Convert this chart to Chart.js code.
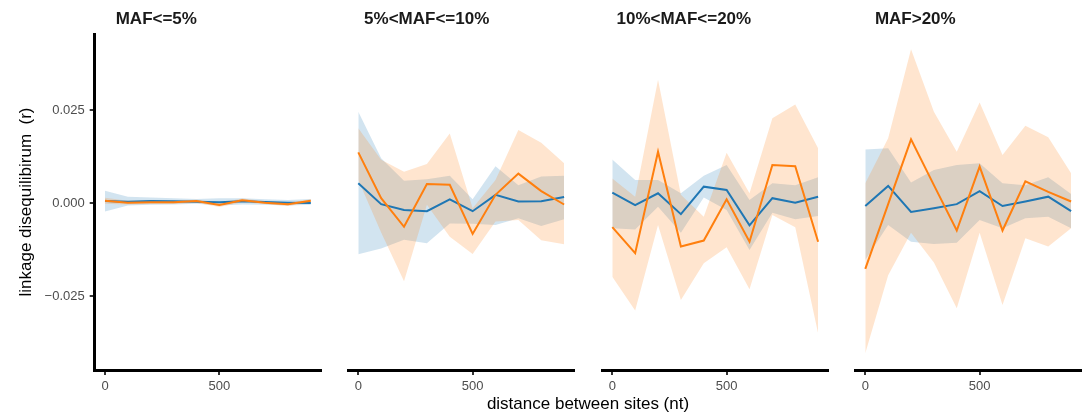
<!DOCTYPE html>
<html>
<head>
<meta charset="utf-8">
<title>Linkage disequilibrium by distance</title>
<script src="https://cdn.jsdelivr.net/npm/chart.js@4.4.1/dist/chart.umd.min.js"></script>
<style>
  html, body { margin: 0; padding: 0; background: #fff; }
  #fig { position: relative; width: 1089px; height: 415px; overflow: hidden;
         font-family: "Liberation Sans", Arial, Helvetica, sans-serif; }
  #fig canvas { position: absolute; top: 0; }
  .strip { position: absolute; top: 9.6px; font-size: 17px; line-height: 17px;
           font-weight: bold; color: #1a1a1a; white-space: nowrap; }
  .xtitle { position: absolute; top: 394.6px; left: 0; width: 1176px; text-align: center;
            font-size: 17px; line-height: 17px; color: #000; white-space: nowrap; }
</style>
</head>
<body>
<div id="fig">
  <canvas id="p0" width="330" height="415"></canvas>
  <canvas id="p1" width="239" height="415"></canvas>
  <canvas id="p2" width="239" height="415"></canvas>
  <canvas id="p3" width="239" height="415"></canvas>
  <div class="strip" id="t0"></div>
  <div class="strip" id="t1"></div>
  <div class="strip" id="t2"></div>
  <div class="strip" id="t3"></div>
  <div class="xtitle" id="xt"></div>
</div>
<script>
// distance bins (nt) and axis ticks
const distances = [0, 100, 200, 300, 400, 500, 600, 700, 800, 900];
const xTicks = [0, 500];
const yTicks = [-0.025, 0, 0.025];
const facetTitles = ['MAF<=5%', '5%<MAF<=10%', '10%<MAF<=20%', 'MAF>20%'];
const xTitle = 'distance between sites (nt)';
const yTitle = 'linkage disequilibirum  (r)';

// MAF <= 5%
const maf5BlueMean   = [0.00054, 0.00036, 0.00054, 0.00045, 0.00036, 0.00018, 0.00045, 0.00027, 0.00009, 0.00000];
const maf5BlueLo     = [-0.0023, -0.0007, -0.0005, -0.0004, -0.0002, -0.0007, -0.0004, -0.0005, -0.0007, -0.0005];
const maf5BlueHi     = [0.0033, 0.0017, 0.0015, 0.0013, 0.0011, 0.0013, 0.0013, 0.0010, 0.0008, 0.0011];
const maf5OrangeMean = [0.00063, 0.00009, 0.00018, 0.00018, 0.00054, -0.00054, 0.00072, 0.00009, -0.00036, 0.00063];
const maf5OrangeLo   = [-0.0002, -0.0004, -0.0003, -0.0003, 0.0001, -0.0011, 0.0002, -0.0003, -0.0008, 0.0002];
const maf5OrangeHi   = [0.0014, 0.0006, 0.0006, 0.0006, 0.0009, 0.0000, 0.0012, 0.0005, 0.0001, 0.0010];

// 5% < MAF <= 10%
const maf10BlueMean   = [0.0053, -0.0003, -0.0019, -0.0022, 0.0010, -0.0022, 0.0022, 0.0004, 0.0005, 0.0016];
const maf10BlueLo     = [-0.0138, -0.0122, -0.0099, -0.0108, -0.0055, -0.0056, -0.0059, -0.0041, -0.0062, -0.0044];
const maf10BlueHi     = [0.0245, 0.0120, 0.0060, 0.0064, 0.0073, 0.0010, 0.0099, 0.0048, 0.0071, 0.0073];
const maf10OrangeMean = [0.0136, 0.0013, -0.0064, 0.0051, 0.0049, -0.0083, 0.0022, 0.0079, 0.0032, -0.0004];
const maf10OrangeLo   = [0.0062, -0.0079, -0.0210, -0.0005, -0.0091, -0.0137, -0.0050, -0.0046, -0.0100, -0.0111];
const maf10OrangeHi   = [0.0201, 0.0116, 0.0084, 0.0105, 0.0187, -0.0014, 0.0062, 0.0196, 0.0162, 0.0107];

// 10% < MAF <= 20%
const maf20BlueMean   = [0.0028, -0.0006, 0.0026, -0.0030, 0.0044, 0.0035, -0.0060, 0.0013, 0.0001, 0.0017];
const maf20BlueLo     = [-0.0068, -0.0071, -0.0010, -0.0080, 0.0015, -0.0019, -0.0126, -0.0026, -0.0044, -0.0035];
const maf20BlueHi     = [0.0117, 0.0062, 0.0062, 0.0026, 0.0073, 0.0102, 0.0008, 0.0053, 0.0048, 0.0069];
const maf20OrangeMean = [-0.0065, -0.0135, 0.0138, -0.0117, -0.0101, 0.0010, -0.0104, 0.0102, 0.0099, -0.0104];
const maf20OrangeLo   = [-0.0198, -0.0289, -0.0059, -0.0261, -0.0162, -0.0119, -0.0232, -0.0032, -0.0065, -0.0350];
const maf20OrangeHi   = [0.0066, 0.0017, 0.0331, 0.0022, -0.0037, 0.0135, 0.0026, 0.0228, 0.0265, 0.0147];

// MAF > 20%
const mafHiBlueMean   = [-0.0008, 0.0046, -0.0024, -0.0014, -0.0003, 0.0032, -0.0008, 0.0004, 0.0017, -0.0022];
const mafHiBlueLo     = [-0.0153, -0.0059, -0.0104, -0.0110, -0.0107, -0.0046, -0.0068, -0.0041, -0.0037, -0.0068];
const mafHiBlueHi     = [0.0144, 0.0147, 0.0055, 0.0089, 0.0102, 0.0107, 0.0053, 0.0048, 0.0069, 0.0024];
const mafHiOrangeMean = [-0.0177, -0.0003, 0.0171, 0.0048, -0.0074, 0.0098, -0.0074, 0.0058, 0.0030, 0.0004];
const mafHiOrangeLo   = [-0.0404, -0.0194, -0.0080, -0.0160, -0.0283, -0.0080, -0.0274, -0.0095, -0.0117, -0.0068];
const mafHiOrangeHi   = [0.0053, 0.0174, 0.0413, 0.0245, 0.0138, 0.0270, 0.0129, 0.0208, 0.0177, 0.0080];

const panelSeries = [
  [maf5BlueMean, maf5BlueLo, maf5BlueHi, maf5OrangeMean, maf5OrangeLo, maf5OrangeHi],
  [maf10BlueMean, maf10BlueLo, maf10BlueHi, maf10OrangeMean, maf10OrangeLo, maf10OrangeHi],
  [maf20BlueMean, maf20BlueLo, maf20BlueHi, maf20OrangeMean, maf20OrangeLo, maf20OrangeHi],
  [mafHiBlueMean, mafHiBlueLo, mafHiBlueHi, mafHiOrangeMean, mafHiOrangeLo, mafHiOrangeHi]
];

// layout of the facet row
const FONT = '"Liberation Sans", Arial, Helvetica, sans-serif';
const PANEL_W = 226.4;
const PANEL_STEP = 253.4;
const FIRST_LEFT = 94.7;
const AREA_TOP = 34;
const AREA_BOTTOM = 370;
const CANVAS_H = 415;
const X_AXIS_H = 30;
const SIDE_PAD = 6;
const titleOffsets = [22, 17, 16, 21];

Chart.defaults.font.family = FONT;
Chart.defaults.color = '#4d4d4d';

const BLUE = '#1f77b4';
const ORANGE = '#ff7f0e';
const BLUE_FILL = 'rgba(31,119,180,0.2)';
const ORANGE_FILL = 'rgba(255,127,14,0.2)';

function points(values) {
  return distances.map((d, i) => ({ x: d, y: values[i] }));
}

function fmtY(v) {
  if (Math.abs(v) < 1e-12) return '0.000';
  return (v < 0 ? '\u2212' : '') + Math.abs(v).toFixed(3);
}

function band(values, fill, color, order) {
  return {
    data: points(values), fill: fill, backgroundColor: color,
    borderColor: 'rgba(0,0,0,0)', borderWidth: 0, pointRadius: 0, tension: 0, order: order
  };
}

function line(values, color, order) {
  return {
    data: points(values), fill: false, borderColor: color, backgroundColor: color,
    borderWidth: 2, pointRadius: 0, tension: 0, order: order,
    borderJoinStyle: 'miter', borderCapStyle: 'butt'
  };
}

panelSeries.forEach((s, idx) => {
  const [bMean, bLo, bHi, oMean, oLo, oHi] = s;
  const left = FIRST_LEFT + PANEL_STEP * idx;
  const canvas = document.getElementById('p' + idx);
  const first = idx === 0;
  let canvasLeft, padLeft, padRight;
  if (first) {
    canvasLeft = 0;
    padLeft = 0;
    padRight = canvas.width - (left + PANEL_W);
  } else {
    canvasLeft = left - SIDE_PAD;
    padLeft = SIDE_PAD;
    padRight = canvas.width - SIDE_PAD - PANEL_W;
  }
  canvas.style.left = canvasLeft + 'px';

  new Chart(canvas, {
    type: 'line',
    data: {
      datasets: [
        band(bHi, '+1', BLUE_FILL, 4),
        band(bLo, false, BLUE_FILL, 4),
        band(oHi, '+1', ORANGE_FILL, 3),
        band(oLo, false, ORANGE_FILL, 3),
        line(bMean, BLUE, 2),
        line(oMean, ORANGE, 1)
      ]
    },
    options: {
      responsive: false,
      animation: false,
      devicePixelRatio: 1,
      events: [],
      layout: { padding: { left: padLeft, right: padRight, top: AREA_TOP,
                           bottom: CANVAS_H - AREA_BOTTOM - X_AXIS_H } },
      plugins: {
        legend: { display: false },
        tooltip: { enabled: false },
        filler: { propagate: false }
      },
      scales: {
        x: {
          type: 'linear', min: -45, max: 945,
          afterBuildTicks: sc => { sc.ticks = xTicks.map(v => ({ value: v })); },
          afterFit: sc => { sc.height = X_AXIS_H; },
          ticks: { color: '#4d4d4d', font: { size: 13 }, padding: 4, maxRotation: 0,
                   autoSkip: false, callback: v => String(v) },
          grid: { drawOnChartArea: false, drawTicks: true, tickLength: 5,
                  color: '#333333', lineWidth: 2 },
          border: { display: true, color: '#000000', width: 3 }
        },
        y: {
          type: 'linear', min: -0.04489, max: 0.04543,
          display: first,
          afterBuildTicks: sc => { sc.ticks = yTicks.map(v => ({ value: v })); },
          afterFit: sc => { sc.width = first ? left : 0; },
          ticks: { color: '#4d4d4d', font: { size: 13 }, padding: 5, callback: v => fmtY(v) },
          grid: { drawOnChartArea: false, drawTicks: true, tickLength: 5,
                  color: '#333333', lineWidth: 2 },
          border: { display: true, color: '#000000', width: 3 },
          title: { display: true, text: yTitle, color: '#000000',
                   font: { size: 17 }, padding: { top: 16.5, bottom: 0 } }
        }
      }
    }
  });

  const t = document.getElementById('t' + idx);
  t.textContent = facetTitles[idx];
  t.style.left = (left + titleOffsets[idx] - 1) + 'px';
});

document.getElementById('xt').textContent = xTitle;
</script>
</body>
</html>
